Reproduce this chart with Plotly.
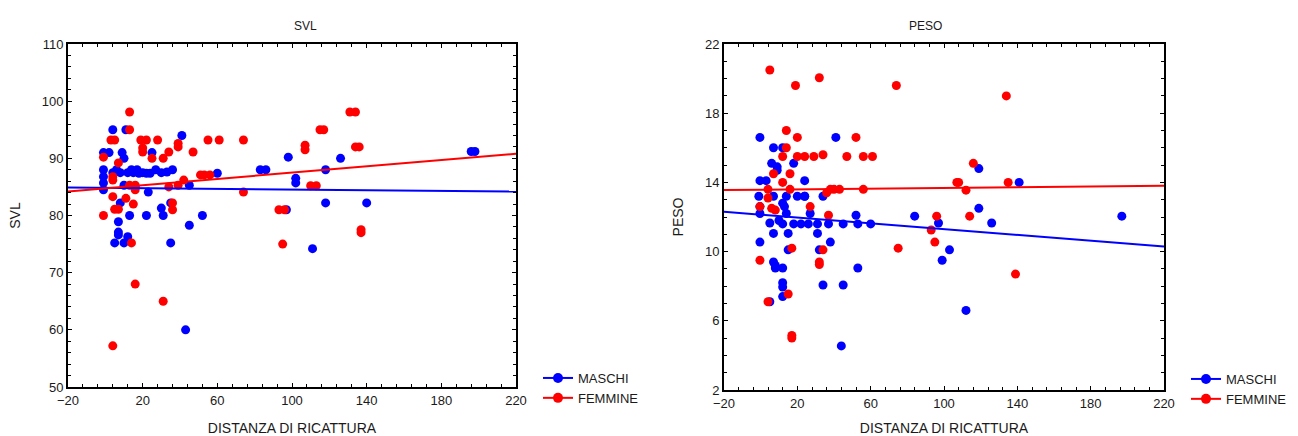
import plotly.graph_objects as go

# ---- SVL vs distanza di ricattura ----
svl_m_dist = [4, 11, 41, -1, 2, 9, 10, 25, -1, -1, 4, 8, 12, 15, 17, 22, 27, 36, -1, -1,
              10, 16, 23, 45, 35, 30, 31, 8, 13, 22, 7, 45, 52, 7, 7, 12, 5, 10, 35, 60,
              83, 86, 98, 102, 102, 118, 118, 97, 111, 126, 140, 196, 198, 43, 14, 20, 30,
              6, 18, 24, 33]
svl_m_val = [95, 95, 94, 91, 91, 91, 90, 91, 88, 86.8, 87.5, 87.5, 87.5, 87.5, 88, 87.4, 88, 88, 85.7, 84.5,
             85.3, 85, 84.1, 85.3, 82.2, 81.3, 80, 82.2, 80, 80, 78.9, 78.3, 80, 77.1, 76.6, 76.3, 75.2, 75.2, 75.2, 87.4,
             88, 88, 90.2, 85.7, 86.5, 88, 82.2, 81, 74.2, 90, 82.2, 91.2, 91.2, 60, 88, 87.5, 87.5,
             88, 87.4, 87.4, 87.6]

svl_f_dist = [13, 13, 3, 5, 19, 22, 28, 20, 20, 25, -1, 7, 31, 34, 39, 39, 47, 55, 61, 74,
              4, 13, 16, 16, 4, 11, 15, 5, 7, -1, 14, 34, 39, 42, 36, 36, 51, 53, 56, 74,
              16, 31, 4, 93, 96, 95, 107, 107, 115, 117, 110, 113, 131, 134, 134, 136, 137, 137, 4]
svl_f_val = [98.1, 95, 93.2, 93.2, 93.2, 93.2, 93.2, 91.8, 91.1, 90, 90.2, 89.2, 90, 91.1, 92, 92.6, 91.1, 93.2, 93.2, 93.2,
             86.2, 85.3, 84.5, 85.3, 83.3, 83, 82, 81.1, 81.1, 80, 75.2, 85, 85.3, 86.2, 82.2, 81, 87.1, 87.1, 87.1, 84.1,
             68, 65, 57.2, 81, 81, 75, 91.5, 92.3, 95, 95, 85.2, 85.2, 98.1, 98.1, 92, 92, 77, 77.5, 86.8]

# fitted regression lines (value at x = -20 and x = 220)
fit_x = [-20, 220]
svl_fit_m = [84.9, 84.2]
svl_fit_f = [84.2, 90.8]

# ---- PESO vs distanza di ricattura ----
peso_m_dist = [-0.4, 41, 7, 12, 6, 9, 9, 18, -0.4, 3, 24, 24, -1, 7, 14, 20, 24, 34, -0.4, 12,
               13, -0.4, 27, 52, 14, 5, 10, 12, 18, 22, 26, 31, 37, 45, 53, 60, 7, 15, 31, -0.4,
               38, 15, 32, 7, 8, 12, 8, 12, 12, 34, 45, 12, 5, 53, 44, 84, 97, 99, 103, 112,
               119, 119, 126, 141, 197]
peso_m_val = [16.6, 16.6, 16.0, 16.0, 15.1, 14.9, 14.7, 15.1, 14.1, 14.1, 14.1, 13.2, 13.2, 13.2, 13.2, 13.2, 13.2, 13.2, 12.6, 12.8,
              12.6, 12.2, 12.2, 12.1, 12.2, 11.65, 11.8, 11.6, 11.6, 11.6, 11.6, 11.6, 11.6, 11.6, 11.6, 11.6, 11.05, 11.05, 11.05, 10.55,
              10.55, 10.1, 10.1, 9.4, 9.2, 9.05, 9.05, 8.2, 7.95, 8.07, 8.07, 7.4, 7.1, 9.05, 4.55, 12.05, 11.65, 9.5, 10.1, 6.6,
              14.8, 12.5, 11.65, 14.0, 12.05]

peso_f_dist = [5, 19, 32, 14, 20, 52, 14, 12, 20, 24, 29, 34, 47, 56, 61, 7, 16, 12, 4, 16,
               38, 40, 43, 56, 36, 4, -0.4, 6, 8, 27, 37, 17, 34, -0.4, 32, 32, 15, 4, 17, 17,
               75, 93, 95, 74, 96, 107, 108, 112, 114, 116, 134, 135, 139]
peso_f_val = [20.5, 19.6, 20.05, 17.0, 16.6, 16.6, 16.0, 15.5, 15.5, 15.5, 15.5, 15.6, 15.5, 15.5, 15.5, 14.5, 14.5, 14.0, 13.6, 13.6,
              13.6, 13.6, 13.6, 13.6, 13.4, 13.1, 12.6, 12.5, 12.4, 12.6, 12.1, 10.2, 10.1, 9.5, 9.4, 9.25, 7.55, 7.1, 5.15, 5.0,
              10.2, 11.25, 10.55, 19.6, 12.05, 14.0, 14.0, 13.55, 12.05, 15.1, 19.0, 14.0, 8.7]

peso_fit_m = [12.3, 10.3]
peso_fit_f = [13.56, 13.8]

BLUE = "#0000FF"
RED = "#FF0000"
FONT = "Liberation Sans, Arial, sans-serif"
TXT = "#1a1a1a"
MSIZE = 9

fig = go.Figure()


def add_panel(xa, ya, legend, m_x, m_y, f_x, f_y, fit_m, fit_f):
    fig.add_trace(go.Scatter(x=m_x, y=m_y, mode="markers", xaxis=xa, yaxis=ya,
                             marker=dict(color=BLUE, size=MSIZE), showlegend=False))
    fig.add_trace(go.Scatter(x=f_x, y=f_y, mode="markers", xaxis=xa, yaxis=ya,
                             marker=dict(color=RED, size=MSIZE), showlegend=False))
    fig.add_trace(go.Scatter(x=fit_x, y=fit_m, mode="lines", xaxis=xa, yaxis=ya,
                             line=dict(color=BLUE, width=2), showlegend=False))
    fig.add_trace(go.Scatter(x=fit_x, y=fit_f, mode="lines", xaxis=xa, yaxis=ya,
                             line=dict(color=RED, width=2), showlegend=False))
    # legend entries: line with dot
    for name, col in (("MASCHI", BLUE), ("FEMMINE", RED)):
        fig.add_trace(go.Scatter(x=[None], y=[None], mode="lines+markers", name=name,
                                 xaxis=xa, yaxis=ya, legend=legend,
                                 line=dict(color=col, width=2),
                                 marker=dict(color=col, size=10)))


add_panel("x", "y", "legend", svl_m_dist, svl_m_val, svl_f_dist, svl_f_val, svl_fit_m, svl_fit_f)
add_panel("x2", "y2", "legend2", peso_m_dist, peso_m_val, peso_f_dist, peso_f_val, peso_fit_m, peso_fit_f)

W, H = 1298, 436

axis_common = dict(
    automargin=False,
    showline=True, linecolor="black", linewidth=2, mirror="ticks",
    ticks="inside", ticklen=4, tickwidth=1, tickcolor="black",
    showgrid=False, zeroline=False,
    tickfont=dict(family=FONT, size=13, color=TXT),
    title_font=dict(family=FONT, size=14, color=TXT),
)

xticks = dict(tickmode="linear", tick0=-20, dtick=40, range=[-20, 220],
              minor=dict(dtick=8, tick0=-20, ticks="inside", ticklen=3, tickcolor="black"))

fig.update_layout(
    width=W, height=H,
    margin=dict(l=0, r=0, t=0, b=0),
    paper_bgcolor="white", plot_bgcolor="white",
    font=dict(family=FONT, size=12, color=TXT),
    xaxis=dict(domain=[68 / W, 516 / W], anchor="y", **xticks, **axis_common,
               title=dict(text="DISTANZA DI RICATTURA", standoff=19)),
    yaxis=dict(domain=[1 - 387 / H, 1 - 44 / H], anchor="x", range=[50, 110],
               tickmode="linear", tick0=50, dtick=10,
               minor=dict(dtick=2, ticks="inside", ticklen=3, tickcolor="black"),
               **axis_common, title=dict(text="SVL", standoff=18)),
    xaxis2=dict(domain=[724 / W, 1164 / W], anchor="y2", **xticks, **axis_common,
                title=dict(text="DISTANZA DI RICATTURA", standoff=19)),
    yaxis2=dict(domain=[1 - 390 / H, 1 - 44 / H], anchor="x2", range=[2, 22],
                tickmode="linear", tick0=2, dtick=4,
                minor=dict(dtick=1, ticks="inside", ticklen=3, tickcolor="black"),
                **axis_common, title=dict(text="PESO", standoff=18)),
    legend=dict(x=538 / W, y=1 - 363 / H, xanchor="left", yanchor="top",
                bgcolor="rgba(0,0,0,0)", font=dict(family=FONT, size=13, color=TXT),
                tracegroupgap=0, itemwidth=30),
    legend2=dict(x=1186 / W, y=1 - 364 / H, xanchor="left", yanchor="top",
                 bgcolor="rgba(0,0,0,0)", font=dict(family=FONT, size=13, color=TXT),
                 tracegroupgap=0, itemwidth=30),
    annotations=[
        dict(text="SVL", x=(68 + 516) / 2 / W, y=1 - 17 / H, xref="paper", yref="paper",
             showarrow=False, font=dict(family=FONT, size=12, color=TXT)),
        dict(text="PESO", x=(724 + 1164) / 2 / W, y=1 - 17 / H, xref="paper", yref="paper",
             showarrow=False, font=dict(family=FONT, size=12, color=TXT)),
    ],
)

fig.write_html("out.html")
